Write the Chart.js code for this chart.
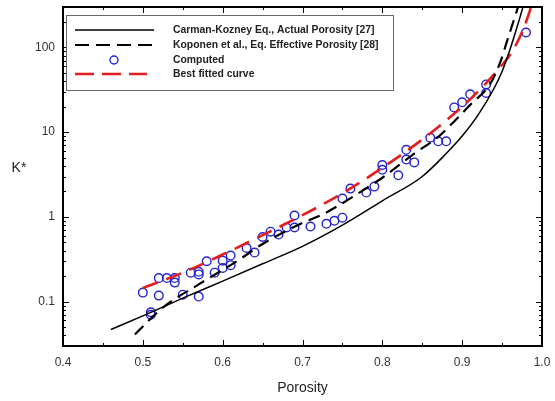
<!DOCTYPE html>
<html>
<head>
<meta charset="utf-8">
<script src="https://cdn.jsdelivr.net/npm/chart.js@4.4.1/dist/chart.umd.min.js"></script>
<style>
    body { margin: 0; background: #fff; }
</style>
</head>
<body>
<canvas id="ChartPermeabilidad" width="555" height="401"></canvas>
<script>

// Carman-Kozney, porosidad real
const PhiCK = [0.46, 0.50, 0.55, 0.60, 0.65, 0.70, 0.75, 0.80, 0.85, 0.88, 0.90, 0.92, 0.94, 0.95, 0.96, 0.97, 0.98];
const KCK = [0.047, 0.068, 0.11, 0.175, 0.28, 0.45, 0.80, 1.55, 3.0, 5.6, 9.0, 16, 33, 52, 95, 190, 400];

// Koponen et al., porosidad efectiva
const PhiKop = [0.49, 0.525, 0.57, 0.62, 0.65, 0.70, 0.725, 0.75, 0.77, 0.80, 0.84, 0.87, 0.89, 0.91, 0.935, 0.9475, 0.956, 0.965, 0.975];
const KKop = [0.041, 0.085, 0.16, 0.31, 0.48, 0.85, 1.07, 1.45, 1.9, 2.9, 5.6, 8.8, 13.4, 21, 37, 66, 117, 214, 420];

// curva ajustada
const PhiFit = [0.50, 0.55, 0.60, 0.65, 0.70, 0.75, 0.80, 0.85, 0.90, 0.93, 0.95, 0.96, 0.97, 0.98, 0.99];
const KFit = [0.145, 0.22, 0.36, 0.61, 1.05, 1.9, 3.8, 8.2, 20, 38, 62, 82, 120, 200, 380];

// puntos calculados
const PhiComp = [0.50, 0.51, 0.51, 0.52, 0.52, 0.53, 0.54, 0.54, 0.55, 0.56, 0.57, 0.57, 0.57, 0.58, 0.59,
    0.60, 0.60, 0.61, 0.61, 0.63, 0.64, 0.65, 0.66, 0.67, 0.68, 0.69, 0.69, 0.71, 0.73, 0.74, 0.75, 0.75,
    0.76, 0.78, 0.79, 0.80, 0.80, 0.82, 0.83, 0.83, 0.84, 0.86, 0.87, 0.88, 0.89, 0.90, 0.91, 0.93, 0.93, 0.98];
const KComp = [0.128, 0.075, 0.070, 0.118, 0.19, 0.19, 0.19, 0.168, 0.121, 0.22, 0.225, 0.21, 0.115, 0.30, 0.22,
    0.305, 0.25, 0.35, 0.27, 0.43, 0.38, 0.58, 0.67, 0.62, 0.75, 0.75, 1.04, 0.77, 0.83, 0.9, 0.98, 1.65,
    2.16, 1.94, 2.28, 4.1, 3.6, 3.1, 6.2, 4.75, 4.4, 8.6, 7.8, 7.8, 19.6, 22.5, 28, 36.6, 29, 150];

const XTicks = [0.4, 0.5, 0.6, 0.7, 0.8, 0.9, 1.0];
const YTicks = [0.1, 1, 10, 100];

const Leyenda = [
    'Carman-Kozney Eq., Actual Porosity [27]',
    'Koponen et al., Eq. Effective Porosity [28]',
    'Computed',
    'Best fitted curve'
];

const ToXY = (Xs, Ys) => Xs.map((x, i) => ({ x: x, y: Ys[i] }));

const AzulPuntos = 'rgb(35, 35, 205)';
const RojoAjuste = 'rgb(228, 30, 30)';

// marco, ticks hacia adentro, K* y leyenda
const MarcoPlugin = {
    id: 'marco',
    afterDatasetsDraw: (chart) => {
        const ctx = chart.ctx;
        const a = chart.chartArea;
        const sx = chart.scales.x;
        const sy = chart.scales.y;

        ctx.save();
        ctx.strokeStyle = '#000';
        ctx.lineWidth = 1;

        // ticks eje x (abajo y arriba)
        for (let v = 0.4; v <= 1.0001; v += 0.05) {
            const px = Math.round(sx.getPixelForValue(v)) + 0.5;
            const mayor = Math.abs(v * 10 - Math.round(v * 10)) < 0.01;
            const L = mayor ? 6 : 3;
            ctx.beginPath();
            ctx.moveTo(px, a.bottom); ctx.lineTo(px, a.bottom - L);
            ctx.moveTo(px, a.top); ctx.lineTo(px, a.top + L);
            ctx.stroke();
        }

        // ticks eje y (izquierda y derecha)
        [0.01, 0.1, 1, 10, 100].forEach(dec => {
            for (let m = 1; m <= 9; m++) {
                const v = dec * m;
                if (v < 0.03 || v > 300) continue;
                const py = Math.round(sy.getPixelForValue(v)) + 0.5;
                const L = m === 1 ? 6 : 3;
                ctx.beginPath();
                ctx.moveTo(a.left, py); ctx.lineTo(a.left + L, py);
                ctx.moveTo(a.right, py); ctx.lineTo(a.right - L, py);
                ctx.stroke();
            }
        });

        ctx.lineWidth = 2;
        ctx.strokeRect(a.left, a.top, a.right - a.left, a.bottom - a.top);

        // titulo eje y horizontal
        ctx.fillStyle = '#222';
        ctx.font = '14px "Liberation Sans", Arial, sans-serif';
        ctx.textAlign = 'center';
        ctx.textBaseline = 'middle';
        ctx.fillText('K*', 19, 168);

        // leyenda
        ctx.fillStyle = '#fff';
        ctx.fillRect(66.5, 15.5, 327, 75);
        ctx.strokeStyle = '#666';
        ctx.lineWidth = 1;
        ctx.strokeRect(66.5, 15.5, 327, 75);

        const filas = [30, 45, 60, 74];

        ctx.strokeStyle = '#000';
        ctx.lineWidth = 1.5;
        ctx.beginPath(); ctx.moveTo(75, filas[0]); ctx.lineTo(154, filas[0]); ctx.stroke();

        ctx.lineWidth = 2.2;
        ctx.setLineDash([14, 7]);
        ctx.beginPath(); ctx.moveTo(75, filas[1]); ctx.lineTo(154, filas[1]); ctx.stroke();

        ctx.setLineDash([]);
        ctx.strokeStyle = AzulPuntos;
        ctx.lineWidth = 1.4;
        ctx.beginPath(); ctx.arc(114, filas[2], 4, 0, Math.PI * 2); ctx.stroke();

        ctx.strokeStyle = RojoAjuste;
        ctx.lineWidth = 2.6;
        ctx.setLineDash([19, 8]);
        ctx.beginPath(); ctx.moveTo(75, filas[3]); ctx.lineTo(147, filas[3]); ctx.stroke();
        ctx.setLineDash([]);

        ctx.fillStyle = '#222';
        ctx.font = 'bold 10.4px "Liberation Sans", Arial, sans-serif';
        ctx.textAlign = 'left';
        Leyenda.forEach((t, i) => ctx.fillText(t, 173, filas[i]));

        ctx.restore();
    }
};

var ctxPermeabilidad = document.getElementById('ChartPermeabilidad');
var ChartPermeabilidad = new Chart(ctxPermeabilidad, {
    type: 'scatter',
    data: {
        datasets: [{
            label: Leyenda[0],
            data: ToXY(PhiCK, KCK),
            showLine: true,
            cubicInterpolationMode: 'monotone',
            borderColor: '#000',
            borderWidth: 1.5,
            pointRadius: 0
        }, {
            label: Leyenda[1],
            data: ToXY(PhiKop, KKop),
            showLine: true,
            cubicInterpolationMode: 'monotone',
            borderColor: '#000',
            borderWidth: 2.2,
            borderDash: [12, 7],
            pointRadius: 0
        }, {
            label: Leyenda[3],
            data: ToXY(PhiFit, KFit),
            showLine: true,
            cubicInterpolationMode: 'monotone',
            borderColor: RojoAjuste,
            borderWidth: 2.6,
            borderDash: [16, 9],
            pointRadius: 0
        }, {
            label: Leyenda[2],
            data: ToXY(PhiComp, KComp),
            showLine: false,
            pointStyle: 'circle',
            pointRadius: 4.3,
            pointBorderWidth: 1.4,
            pointBorderColor: AzulPuntos,
            pointBackgroundColor: 'rgba(0,0,0,0)'
        }]
    },
    options: {
        responsive: false,
        animation: false,
        devicePixelRatio: 1,
        layout: {
            padding: { top: 7, right: 13, left: 0, bottom: 0 }
        },
        plugins: {
            legend: { display: false },
            tooltip: { enabled: false }
        },
        scales: {
            x: {
                type: 'linear',
                min: 0.4,
                max: 1.0,
                afterBuildTicks: (s) => { s.ticks = XTicks.map(v => ({ value: v })); },
                afterFit: (s) => { s.height = 55; s.paddingLeft = 0; s.paddingRight = 0; },
                grid: { display: false, drawTicks: false },
                border: { display: false },
                ticks: {
                    padding: 9,
                    color: '#333',
                    font: { family: '"Liberation Sans", Arial, sans-serif', size: 12 },
                    callback: (v) => Number(v).toFixed(1)
                },
                title: {
                    display: true,
                    text: 'Porosity',
                    color: '#222',
                    font: { family: '"Liberation Sans", Arial, sans-serif', size: 14 },
                    padding: { top: 4, bottom: 4 }
                }
            },
            y: {
                type: 'logarithmic',
                min: 0.03,
                max: 300,
                afterBuildTicks: (s) => { s.ticks = YTicks.map(v => ({ value: v })); },
                afterFit: (s) => { s.width = 63; s.paddingTop = 0; s.paddingBottom = 0; },
                grid: { display: false, drawTicks: false },
                border: { display: false },
                ticks: {
                    padding: 8,
                    color: '#333',
                    font: { family: '"Liberation Sans", Arial, sans-serif', size: 12 },
                    callback: (v) => String(v)
                }
            }
        }
    },
    plugins: [MarcoPlugin]
});

</script>
</body>
</html>
